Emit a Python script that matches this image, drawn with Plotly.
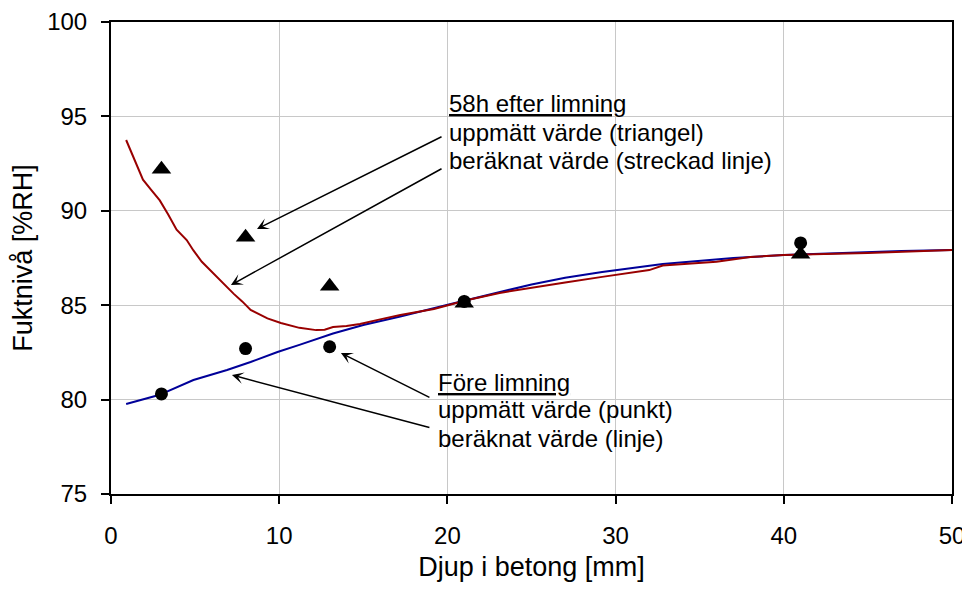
import plotly.graph_objects as go

# Measured points (depth mm, RH %)
depth_meas = [3, 8, 13, 21, 41]
rh_58h_meas = [92.2, 88.6, 86.0, 85.1, 87.7]      # triangles, 58h after gluing
rh_before_meas = [80.3, 82.7, 82.8, 85.2, 88.3]   # circles, before gluing

# Calculated curve, 58h after gluing
depth_58h_calc = [0.9, 1.9, 2.4, 2.9, 3.4, 3.9, 4.5, 4.9, 5.4, 5.9, 6.5, 7.3, 7.8,
                  8.3, 9.3, 10.1, 11.2, 12.2, 12.7, 13.2, 14.0, 14.8, 16.0, 17.2, 19.2,
                  21.2, 23.1, 25.0, 27.0, 29.2, 32.0, 32.8, 36.0, 38.0, 40.0, 45.0, 50.0]
rh_58h_calc = [93.75, 91.65, 91.1, 90.55, 89.8, 89.0, 88.45, 87.9, 87.3, 86.85, 86.3,
               85.6, 85.2, 84.75, 84.3, 84.06, 83.8, 83.68, 83.7, 83.84, 83.9, 84.0, 84.25,
               84.48, 84.8, 85.28, 85.65, 85.9, 86.2, 86.5, 86.86, 87.1, 87.3, 87.55,
               87.66, 87.77, 87.92]

# Calculated curve, before gluing
depth_before_calc = [0.9, 2.85, 4.9, 6.9, 8.3, 9.9, 11.2, 13.2, 15.0, 17.2, 19.9, 23.1,
                     25.0, 27.0, 29.2, 32.8, 37.0, 40.0, 44.0, 47.0, 50.0]
rh_before_calc = [79.77, 80.24, 81.04, 81.57, 81.99, 82.52, 82.9, 83.5, 83.95, 84.4, 85.0,
                  85.7, 86.1, 86.45, 86.76, 87.18, 87.5, 87.66, 87.78, 87.87, 87.92]

x_ticks = [0, 10, 20, 30, 40, 50]
y_ticks = [75, 80, 85, 90, 95, 100]
x_range = [0, 50]
y_range = [75, 100]

FONT = "Liberation Sans, Arial, sans-serif"

fig = go.Figure()
fig.add_trace(go.Scatter(x=depth_before_calc, y=rh_before_calc, mode="lines",
                         line=dict(color="#000099", width=2), showlegend=False))
fig.add_trace(go.Scatter(x=depth_58h_calc, y=rh_58h_calc, mode="lines",
                         line=dict(color="#990000", width=2), showlegend=False))
fig.add_trace(go.Scatter(x=depth_meas, y=rh_before_meas, mode="markers",
                         marker=dict(symbol="circle", size=13, color="black"),
                         showlegend=False))
fig.add_trace(go.Scatter(x=depth_meas, y=rh_58h_meas, mode="markers",
                         marker=dict(symbol="triangle-up", size=17, color="black"),
                         showlegend=False))
# invisible trace so the label-carrying overlay axes are drawn
fig.add_trace(go.Scatter(x=depth_meas, y=rh_58h_meas, mode="markers", xaxis="x2",
                         yaxis="y2", marker=dict(opacity=0), hoverinfo="skip",
                         showlegend=False))

ann = []
def text(x, y, t):
    ann.append(dict(x=x, y=y, xref="x", yref="y", text=t, showarrow=False,
                    xanchor="left", yanchor="middle",
                    font=dict(family=FONT, size=24, color="black")))

def arrow(hx, hy, tx, ty):
    ann.append(dict(x=hx, y=hy, ax=tx, ay=ty, xref="x", yref="y", axref="x", ayref="y",
                    text="", showarrow=True, arrowhead=3, arrowsize=1.3,
                    arrowwidth=1.5, arrowcolor="black"))

text(19.95, 95.66, "<u>58h efter limning</u>")
text(19.95, 94.17, "uppmätt värde (triangel)")
text(19.95, 92.69, "beräknat värde (streckad linje)")
text(19.3, 80.9, "<u>Före limning</u>")
text(19.3, 79.45, "uppmätt värde (punkt)")
text(19.3, 77.95, "beräknat värde (linje)")

arrow(8.68, 89.04, 19.74, 93.96)
arrow(7.13, 86.07, 19.74, 92.27)
arrow(13.67, 82.47, 19.02, 80.08)
arrow(7.19, 81.3, 19.02, 78.5)

common = dict(showgrid=True, gridcolor="#c8c8c8", gridwidth=1, zeroline=False,
              automargin=False)

# page body has an 8px margin, so the figure is drawn smaller and offset
fig.update_layout(
    width=962, height=574,
    margin=dict(l=103, r=18, t=14, b=88),
    paper_bgcolor="white", plot_bgcolor="white",
    font=dict(family=FONT, size=24, color="black"),
    annotations=ann,
    xaxis=dict(range=x_range, tickvals=x_ticks, ticks="outside", ticklen=8,
               tickwidth=2, tickcolor="black", showline=True, linewidth=2,
               linecolor="black", mirror=True, showticklabels=False, **common),
    yaxis=dict(range=y_range, tickvals=y_ticks, ticks="outside", ticklen=8,
               tickwidth=2, tickcolor="black", showline=True, linewidth=2,
               linecolor="black", mirror=True, showticklabels=False, **common),
    xaxis2=dict(range=x_range, tickvals=x_ticks, overlaying="x", anchor="y2",
                side="bottom", ticks="outside", ticklen=20,
                tickcolor="rgba(0,0,0,0)", showline=False, showgrid=False,
                zeroline=False, automargin=False, tickfont=dict(size=24),
                title=dict(text="Djup i betong [mm]", standoff=14,
                           font=dict(size=27))),
    yaxis2=dict(range=y_range, tickvals=y_ticks, overlaying="y", anchor="x2",
                side="left", ticks="outside", ticklen=18,
                tickcolor="rgba(0,0,0,0)", showline=False, showgrid=False,
                zeroline=False, automargin=False, tickfont=dict(size=24),
                title=dict(text="Fuktnivå [%RH]", standoff=7,
                           font=dict(size=27))),
)

fig.write_html("out.html")
